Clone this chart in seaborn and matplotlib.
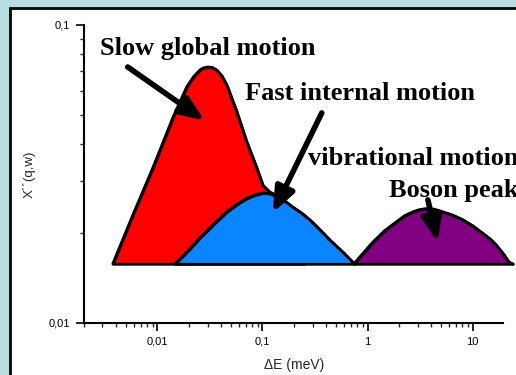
import numpy as np
import pandas as pd
import matplotlib
matplotlib.use("Agg")
import matplotlib.pyplot as plt
import matplotlib.ticker as mticker
from matplotlib.patches import Rectangle
import seaborn as sns

# ---- data ----
base_level = 0.0158

slow_x = [0.00376, 0.00582, 0.00902, 0.0140, 0.0190, 0.0220, 0.0253, 0.0275, 0.0301,
          0.0333, 0.0367, 0.0410, 0.0457, 0.0569, 0.0708, 0.0882, 0.1007, 0.1174,
          0.156, 0.20, 0.25]
slow_y = [0.0158, 0.0230, 0.0331, 0.0488, 0.0620, 0.0670, 0.0706, 0.0718, 0.0723,
          0.0720, 0.0706, 0.0675, 0.0629, 0.0511, 0.0405, 0.0331, 0.0290, 0.0275,
          0.0262, 0.0200, 0.0158]

fast_x = [0.01468, 0.0200, 0.0253, 0.0350, 0.0457, 0.0580, 0.0708, 0.0850, 0.1007,
          0.1180, 0.1368, 0.165, 0.194, 0.235, 0.282, 0.350, 0.437, 0.582, 0.724, 0.757]
fast_y = [0.0158, 0.0176, 0.0193, 0.0216, 0.0236, 0.0251, 0.0262, 0.0269, 0.0273,
          0.0272, 0.0265, 0.0256, 0.0245, 0.0234, 0.0222, 0.0206, 0.0190, 0.0173,
          0.0160, 0.0158]

boson_x = [0.741, 0.90, 1.125, 1.45, 1.862, 2.25, 2.70, 3.10, 3.59, 4.30, 5.21,
           6.50, 8.08, 10.0, 12.5, 14.5, 16.7, 19.5, 22.2, 24.2]
boson_y = [0.0158, 0.0171, 0.0187, 0.0204, 0.0218, 0.0229, 0.0236, 0.0240, 0.0242,
           0.0241, 0.0236, 0.0230, 0.0222, 0.0212, 0.0200, 0.0192, 0.0183, 0.0171,
           0.0160, 0.0158]

x_ticks = [0.01, 0.1, 1, 10]
x_tick_labels = ["0,01", "0,1", "1", "10"]
y_ticks = [0.01, 0.1]
y_tick_labels = ["0,01", "0,1"]

labels = ["Slow global motion", "Fast internal motion", "vibrational motion", "Boson peak"]

sns.set_style("ticks")
plt.rcParams["font.family"] = ["Liberation Sans", "DejaVu Sans"]

fig = plt.figure(figsize=(5.16, 3.75), dpi=100, facecolor="#B8DDE1")
# white panel with black frame (behind the axes)
panel = Rectangle((10 / 516, -0.2), 1.2, 1 - 8 / 375 + 0.2,
                  transform=fig.transFigure, facecolor="white",
                  edgecolor="black", linewidth=2, zorder=-10)
fig.patches.append(panel)
ax = fig.add_axes([84 / 516, 1 - 323 / 375, (503.3 - 84) / 516, (323 - 25) / 375])
ax.set_zorder(5)
ax.set_facecolor("none")
ax.patch.set_alpha(0)
ax.set_xscale("log")
ax.set_yscale("log")
ax.set_xlim(0.002, 19.6)
ax.set_ylim(0.01, 0.1)

series = [
    (slow_x, slow_y, "#FF0000", "slow"),
    (fast_x, fast_y, "#0A84FF", "fast"),
    (boson_x, boson_y, "#800080", "boson"),
]
for i, (xs, ys, col, name) in enumerate(series):
    df = pd.DataFrame({"x": xs, "y": ys})
    poly = ax.fill_between(df["x"], base_level, df["y"], facecolor=col,
                           edgecolor="black", linewidth=2, zorder=2 + i,
                           joinstyle="round")
    sns.lineplot(data=df, x="x", y="y", ax=ax, color="black", linewidth=2,
                 sort=False, estimator=None, zorder=2.1 + i)
    ax.lines[-1].set_solid_joinstyle("round")
    if name == "boson":
        poly.set_clip_on(False)
        ax.lines[-1].set_clip_on(False)

ax.set_xticks(x_ticks)
ax.set_xticklabels(x_tick_labels)
ax.set_yticks(y_ticks)
ax.set_yticklabels(y_tick_labels)
ax.xaxis.set_minor_locator(mticker.LogLocator(base=10, subs=np.arange(2, 10)))
ax.yaxis.set_minor_locator(mticker.LogLocator(base=10, subs=np.arange(2, 10)))
ax.xaxis.set_minor_formatter(mticker.NullFormatter())
ax.yaxis.set_minor_formatter(mticker.NullFormatter())
ax.tick_params(axis="both", which="major", length=6, width=1.2, labelsize=8, colors="black", pad=4)
ax.tick_params(axis="both", which="minor", length=3, width=1.0)
for s in ["top", "right"]:
    ax.spines[s].set_visible(False)
for s in ["left", "bottom"]:
    ax.spines[s].set_linewidth(1.5)
    ax.spines[s].set_color("black")

ax.set_xlabel("ΔE (meV)", fontsize=10, labelpad=8)
ax.set_ylabel("X´´(q,w)", fontsize=9.5, labelpad=9)

serif = dict(family=["Liberation Serif", "DejaVu Serif"], fontweight="bold",
             fontsize=19, color="black", ha="left", va="baseline", clip_on=False)
text_pos = [(0.00282, 0.0793), (0.0678, 0.0559), (0.270, 0.0339), (1.596, 0.0265)]
for lab, (tx, ty) in zip(labels, text_pos):
    ax.text(tx, ty, lab, zorder=10, **serif)

arrows = [((0.00521, 0.0723), (0.0282, 0.0477)),
          ((0.367, 0.0507), (0.1253, 0.0234)),
          ((3.75, 0.0259), (4.67, 0.0187))]
for (tx, ty), (hx, hy) in arrows:
    ax.annotate("", xy=(hx, hy), xytext=(tx, ty), zorder=11,
                arrowprops=dict(arrowstyle="-|>,head_length=1.5,head_width=0.6",
                                color="black", lw=4, shrinkA=0, shrinkB=0))

fig.savefig("out.png", dpi=100, facecolor=fig.get_facecolor())
